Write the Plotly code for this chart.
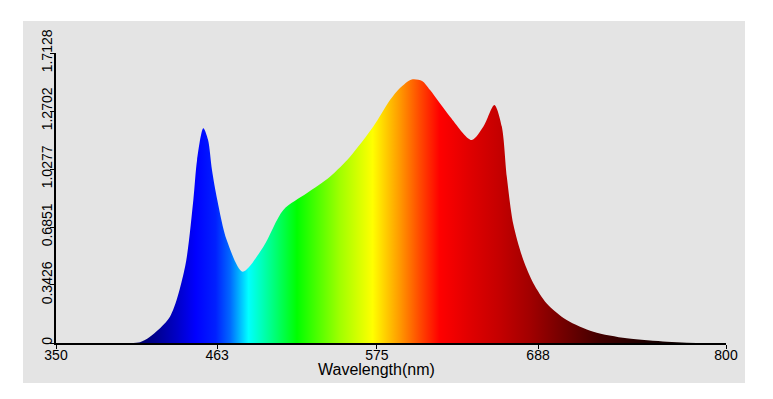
import plotly.graph_objects as go

# Spectrum data (wavelength nm, relative intensity)
wavelength = [401.9, 408.9, 415.9, 429.9, 440.5, 446.3, 448.9, 453.3, 456.6, 459.4,
              463.1, 469.7, 480.9, 495.4, 509.4, 525.8, 542.1, 556.2, 572.5, 584.2,
              591.2, 599.4, 606.7, 612.3, 626.3, 641.5, 649.7, 657.4, 662.6, 666.1,
              670.7, 677.7, 684.7, 694.1, 708.1, 726.8, 750.2, 778.3, 792.3, 819.8]
intensity = [0.0, 0.005, 0.037, 0.155, 0.45, 0.845, 1.08, 1.268, 1.2, 1.02,
             0.845, 0.608, 0.421, 0.569, 0.786, 0.884, 0.982, 1.10, 1.278, 1.435,
             1.506, 1.557, 1.548, 1.494, 1.337, 1.199, 1.278, 1.406, 1.278, 0.982,
             0.70, 0.49, 0.353, 0.234, 0.136, 0.067, 0.028, 0.008, 0.002, 0.0]

x_tickvals = [350, 463, 575, 688, 819.8]
x_ticktext = ["350", "463", "575", "688", "800"]
y_tickvals = [0, 0.3426, 0.6851, 1.0277, 1.3702, 1.7128]
y_ticktext = ["0", "0.3426", "0.6851", "1.0277", "1.2702", "1.7128"]

# spectral colour stops (nm, colour)
stop_nm = [350, 405, 420, 435, 448, 462, 472, 485, 500, 519, 549, 572, 591, 605,
           619, 640, 661, 682, 703, 731, 766, 819.8]
stop_col = ["#000040", "#000060", "#000090", "#0000c8", "#0000ff", "#0020ff",
            "#0068ff", "#00ffff", "#00ff90", "#00ff00", "#a0ff00", "#ffff00",
            "#ff9a00", "#ff4a00", "#ff0000", "#e00000", "#c40000", "#a20000",
            "#780000", "#420000", "#1c0000", "#000000"]
x0, x1 = 350, 819.8
colorscale = [[(n - x0) / (x1 - x0), c] for n, c in zip(stop_nm, stop_col)]

fig = go.Figure()
fig.add_trace(go.Scatter(
    x=wavelength, y=intensity, mode="lines",
    line=dict(width=0, shape="spline", smoothing=0.8),
    fill="tozeroy",
    fillgradient=dict(type="horizontal", colorscale=colorscale, start=x0, stop=x1),
    hoverinfo="skip", showlegend=False,
))

W, H = 773, 399
l, r, t, b = 56, 47, 53, 56
pw, ph = W - l - r, H - t - b

def px_to_paper_x(px):
    return (px - l) / pw

def py_to_paper_y(py):
    return (H - b - py) / ph

fig.add_shape(type="rect", xref="paper", yref="paper", layer="below",
              x0=px_to_paper_x(23), x1=px_to_paper_x(745),
              y0=py_to_paper_y(383), y1=py_to_paper_y(21),
              fillcolor="#e4e4e4", line=dict(width=0))

fig.add_annotation(text="Wavelength(nm)", x=575, xref="x",
                   y=py_to_paper_y(369), yref="paper", showarrow=False,
                   font=dict(size=16, color="#000000", family="Liberation Sans"),
                   xanchor="center", yanchor="middle")

fig.update_layout(
    width=W, height=H,
    margin=dict(l=l, r=r, t=t, b=b),
    paper_bgcolor="#ffffff",
    plot_bgcolor="#e4e4e4",
    font=dict(family="Liberation Sans", size=14, color="#000000"),
    xaxis=dict(range=[x0, x1], tickvals=x_tickvals, ticktext=x_ticktext,
               showgrid=False, zeroline=False, showline=True, linecolor="#000000",
               linewidth=1.5, ticks="outside", ticklen=4, tickcolor="#000000",
               tickfont=dict(size=14), ticklabelstandoff=-6, automargin=False),
    yaxis=dict(range=[0, 1.7128], tickvals=y_tickvals, ticktext=y_ticktext,
               showgrid=False, zeroline=False, showline=True, linecolor="#000000",
               linewidth=1.5, ticks="outside", ticklen=4, tickcolor="#000000",
               tickangle=-90, tickfont=dict(size=14), ticklabelstandoff=-7,
               automargin=False),
)

fig.write_html("out.html",
               config={"displayModeBar": False},
               post_script="document.body.style.margin='0px';document.body.style.padding='0px';")
